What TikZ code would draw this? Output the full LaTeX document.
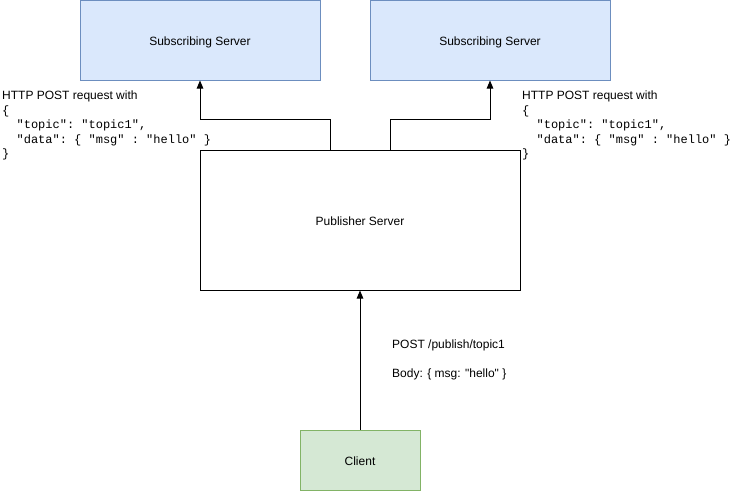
\documentclass[tikz,border=0pt]{standalone}
\usepackage{fontspec}
\setmainfont{Liberation Sans}
\setmonofont{Liberation Mono}
\newfontfamily\plainsans[Ligatures=ResetAll]{Liberation Sans}
\usetikzlibrary{arrows.meta}
\definecolor{subfill}{HTML}{DAE8FC}
\definecolor{subline}{HTML}{6C8EBF}
\definecolor{clifill}{HTML}{D5E8D4}
\definecolor{cliline}{HTML}{82B366}
\begin{document}
\begin{tikzpicture}[x=1pt,y=-1pt,
  every node/.style={inner sep=0pt, font=\fontsize{12}{14}\plainsans},
  boxbase/.style={draw, line width=1pt, align=center, text height=11pt, text depth=0pt},
  subbox/.style={boxbase, fill=subfill, draw=subline, minimum width=240pt, minimum height=80pt},
  pubbox/.style={boxbase, fill=white, draw=black, minimum width=320pt, minimum height=140pt},
  clibox/.style={boxbase, fill=clifill, draw=cliline, minimum width=120pt, minimum height=60pt},
  conn/.style={draw=black, line width=1pt, -{Stealth[length=8pt,width=6.5pt,inset=0pt]}},
  txt/.style={anchor=base west},
  code/.style={anchor=base west, font=\fontsize{12}{14}\ttfamily}
]
\useasboundingbox (0,0) rectangle (741,491);
\node[subbox] (s1) at (200,40) {Subscribing Server};
\node[subbox] (s2) at (490,40) {Subscribing Server};
\node[pubbox] (pub) at (360,220) {Publisher Server};
\node[clibox] (cli) at (360,460) {Client};

\draw[conn] ([xshift=-30pt]pub.north) -- ++(0,-30) -| (s1.south);
\draw[conn] ([xshift=30pt]pub.north) -- ++(0,-30) -| (s2.south);
\draw[conn] (cli.north) -- (pub.south);

% left label
\node[txt] (l1) at (2,99.5) {HTTP POST request with};
\node[code] (l2) at (2,114) {\{};
\node[code] (l3) at (2,128.5) {\ \ "topic": "topic1",};
\node[code] (l4) at (2,143) {\ \ "data": \{ "msg" : "hello" \}};
\node[code] (l5) at (2,157.5) {\}};
% right label
\node[txt] (r1) at (522,99.5) {HTTP POST request with};
\node[code] (r2) at (522,114) {\{};
\node[code] (r3) at (522,128.5) {\ \ "topic": "topic1",};
\node[code] (r4) at (522,143) {\ \ "data": \{ "msg" : "hello" \}};
\node[code] (r5) at (522,157.5) {\}};
% client request label
\node[txt] (c1) at (392,348.5) {POST /publish/topic1};
\node[txt] (c2) at (392,377) {Body: \{ msg: "hello" \}};
\end{tikzpicture}
\end{document}
